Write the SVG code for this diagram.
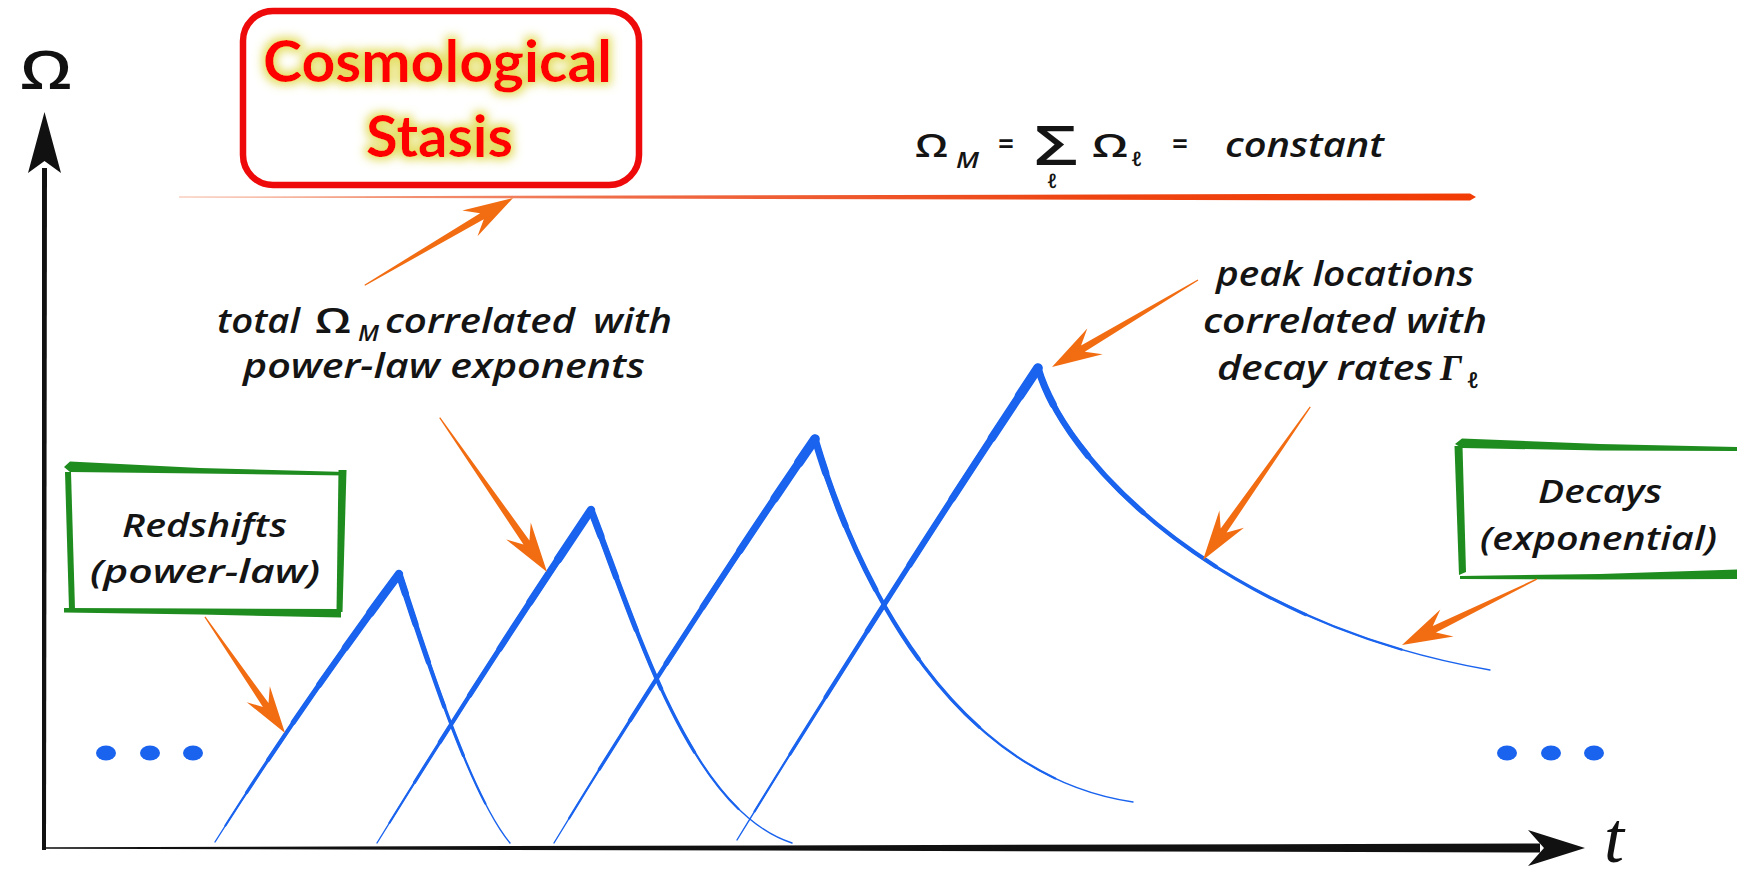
<svg xmlns="http://www.w3.org/2000/svg" xmlns:xlink="http://www.w3.org/1999/xlink" width="1737" height="871" viewBox="0 0 1737 871">
<style>
  .hand { font-family: "Open Sans", "DejaVu Sans", sans-serif; font-style: italic; font-weight: 600; fill: #141414; }
  .title { font-family: Lato, "Open Sans", sans-serif; font-weight: bold; fill: #ff0000; }
  .blue { fill: none; stroke: #1a63ee; stroke-linecap: round; stroke-linejoin: round; }
  .L1 { stroke-width: 1.4; }
  .L2 { stroke-width: 2.2; stroke-dasharray: 94 200; }
  .L3 { stroke-width: 3.2; stroke-dasharray: 82 200; }
  .L4 { stroke-width: 4.2; stroke-dasharray: 70 200; }
  .L5 { stroke-width: 5.2; stroke-dasharray: 56 200; }
  .L6 { stroke-width: 6.2; stroke-dasharray: 42 200; }
  .L7 { stroke-width: 7.2; stroke-dasharray: 28 200; }
  .L8 { stroke-width: 8.4; stroke-dasharray: 15 200; }
  .L9 { stroke-width: 9.6; stroke-dasharray: 6 200; }
  .D2 { stroke-width: 2.2; stroke-dasharray: 84 200; }
  .D3 { stroke-width: 3.2; stroke-dasharray: 66 200; }
  .D4 { stroke-width: 4.2; stroke-dasharray: 48 200; }
  .D5 { stroke-width: 5.2; stroke-dasharray: 32 200; }
  .D6 { stroke-width: 6.2; stroke-dasharray: 18 200; }
  .D7 { stroke-width: 7.2; stroke-dasharray: 7 200; }
  .orange { fill: #f26c12; }
  .green { fill: #1f8c1f; }
  .dot { fill: #1a63ee; }
</style>
<defs>
  <linearGradient id="redline" gradientUnits="userSpaceOnUse" x1="179" y1="0" x2="1476" y2="0">
    <stop offset="0" stop-color="#f6b8a0"/>
    <stop offset="0.35" stop-color="#ef6a45"/>
    <stop offset="0.7" stop-color="#ee4412"/>
    <stop offset="1" stop-color="#f23c05"/>
  </linearGradient>
  <filter id="glow" x="-20%" y="-50%" width="140%" height="200%">
    <feMorphology in="SourceAlpha" operator="dilate" radius="3" result="d"/>
    <feGaussianBlur in="d" stdDeviation="5" result="b"/>
    <feFlood flood-color="#e2dc5a" flood-opacity="0.95"/>
    <feComposite in2="b" operator="in" result="g"/>
    <feMerge><feMergeNode in="g"/><feMergeNode in="SourceGraphic"/></feMerge>
  </filter>
  <path id="r1" pathLength="100" d="M399,574 Q302,704 215,842"/>
  <path id="d1" pathLength="100" d="M399,574 C424,650 470,795 510,843"/>
  <path id="r2" pathLength="100" d="M591,510 Q481,674 377,843"/>
  <path id="d2" pathLength="100" d="M591,510 C636,626 690,810 792,843"/>
  <path id="r3" pathLength="100" d="M815,439 Q680,636 554,843"/>
  <path id="d3" pathLength="100" d="M815,439 C855,575 950,775 1133,802"/>
  <path id="r4" pathLength="100" d="M1038,368 Q884,600 737,840"/>
  <path id="d4" pathLength="100" d="M1038,368 C1068,470 1230,625 1490,670"/>
</defs>

<rect width="1737" height="871" fill="#ffffff"/>

<!-- axes -->
<g id="axes">
  <polygon fill="#111" points="42,850 42,168 47,168 46,850"/>
  <polygon fill="#111" points="44.5,112 61,173 44.5,161 28,173"/>
  <polygon fill="#111" points="44,847.2 1540,843.5 1540,852.5 44,848.8"/>
  <polygon fill="#111" points="1585,848 1528,830 1544,848 1528,866"/>
  <text x="20" y="89" textLength="52" lengthAdjust="spacingAndGlyphs" style="font-family:'Open Sans','DejaVu Sans',sans-serif;font-weight:600;font-size:52px;fill:#111">Ω</text>
  <text x="1604" y="862" style="font-family:'Liberation Serif',serif;font-style:italic;font-size:72px;fill:#111">t</text>
</g>

<!-- red constant line -->
<g id="constant-line">
  <polygon fill="url(#redline)" points="179,196.6 1470,193.6 1476,197 1470,200.6 179,197.6"/>
</g>

<!-- title box -->
<g id="title">
  <rect x="243" y="11" width="396" height="174" rx="30" ry="30" fill="#ffffff" stroke="#ee0a0a" stroke-width="6.5"/>
  <g filter="url(#glow)">
    <text class="title" x="263" y="82" font-size="58" textLength="349" lengthAdjust="spacingAndGlyphs">Cosmological</text>
    <text class="title" x="366" y="157" font-size="58" textLength="147" lengthAdjust="spacingAndGlyphs">Stasis</text>
  </g>
</g>

<!-- formula -->
<g id="formula" class="hand">
  <text x="915" y="157" font-size="33" textLength="33" lengthAdjust="spacingAndGlyphs" font-style="normal">Ω</text>
  <text x="956" y="168" font-size="22" textLength="23" lengthAdjust="spacingAndGlyphs">M</text>
  <text x="998" y="155" font-size="30" textLength="16" lengthAdjust="spacingAndGlyphs" font-style="normal">=</text>
  <text x="1034" y="165" font-size="54" textLength="44" lengthAdjust="spacingAndGlyphs" font-style="normal">Σ</text>
  <text x="1047" y="188" font-size="20" textLength="10" lengthAdjust="spacingAndGlyphs">ℓ</text>
  <text x="1092" y="157" font-size="33" textLength="36" lengthAdjust="spacingAndGlyphs" font-style="normal">Ω</text>
  <text x="1131" y="166" font-size="20" textLength="11" lengthAdjust="spacingAndGlyphs">ℓ</text>
  <text x="1172" y="155" font-size="30" textLength="16" lengthAdjust="spacingAndGlyphs" font-style="normal">=</text>
  <text x="1225" y="157" font-size="34" textLength="159" lengthAdjust="spacingAndGlyphs">constant</text>
</g>

<!-- note: total Omega_M -->
<g id="note-total" class="hand">
  <text x="217" y="333" font-size="34" textLength="83" lengthAdjust="spacingAndGlyphs">total</text>
  <text x="315" y="333" font-size="34" textLength="36" lengthAdjust="spacingAndGlyphs" font-style="normal">Ω</text>
  <text x="358" y="341" font-size="22" textLength="21" lengthAdjust="spacingAndGlyphs">M</text>
  <text x="385" y="333" font-size="34" textLength="190" lengthAdjust="spacingAndGlyphs">correlated</text>
  <text x="593" y="333" font-size="34" textLength="79" lengthAdjust="spacingAndGlyphs">with</text>
  <text x="243" y="378" font-size="34" textLength="402" lengthAdjust="spacingAndGlyphs">power-law exponents</text>
</g>

<!-- note: peak locations -->
<g id="note-peak" class="hand">
  <text x="1216" y="286" font-size="34" textLength="258" lengthAdjust="spacingAndGlyphs">peak locations</text>
  <text x="1203" y="333" font-size="34" textLength="284" lengthAdjust="spacingAndGlyphs">correlated with</text>
  <text x="1217" y="380" font-size="34" textLength="216" lengthAdjust="spacingAndGlyphs">decay rates</text>
  <text x="1440" y="380" font-size="36" textLength="22" lengthAdjust="spacingAndGlyphs" style="font-family:'Liberation Serif',serif">Γ</text>
  <text x="1467" y="388" font-size="22" textLength="12" lengthAdjust="spacingAndGlyphs">ℓ</text>
</g>

<!-- Redshifts box -->
<g id="box-redshifts">
  <polygon class="green" points="64,467 70,461.5 200,468 346,472 346,475.5 200,473.5 70,472"/>
  <polygon class="green" points="65,472 71,472 75,609 69,609"/>
  <polygon class="green" points="338.5,470 346.5,470 342.5,612 336.5,612"/>
  <polygon class="green" points="64,608 200,608.5 341,609 341,617.5 200,614.5 64,612.5"/>
  <text class="hand" x="122" y="537" font-size="32" textLength="165" lengthAdjust="spacingAndGlyphs">Redshifts</text>
  <text class="hand" x="90" y="583" font-size="32" textLength="230" lengthAdjust="spacingAndGlyphs">(power-law)</text>
</g>

<!-- Decays box -->
<g id="box-decays">
  <polygon class="green" points="1455,444 1462,438.5 1600,444 1737,447 1737,451 1600,450.5 1462,448"/>
  <polygon class="green" points="1454.5,446 1462.5,446 1466,572 1459,575"/>
  <polygon class="green" points="1460,576 1600,574 1737,569.5 1737,579 1600,579.5 1460,579"/>
  <text class="hand" x="1538" y="503" font-size="32" textLength="124" lengthAdjust="spacingAndGlyphs">Decays</text>
  <text class="hand" x="1480" y="550" font-size="32" textLength="237" lengthAdjust="spacingAndGlyphs">(exponential)</text>
</g>

<!-- abundance curves -->
<g id="curves" class="blue">
  <use href="#r1" class="L1"/><use href="#r1" class="L2"/><use href="#r1" class="L3"/><use href="#r1" class="L4"/><use href="#r1" class="L5"/><use href="#r1" class="L6"/><use href="#r1" class="L7"/><use href="#r1" class="L8"/>
  <use href="#d1" class="L1"/><use href="#d1" class="D2"/><use href="#d1" class="D3"/><use href="#d1" class="D4"/><use href="#d1" class="D5"/><use href="#d1" class="D6"/><use href="#d1" class="D7"/>
  <use href="#r2" class="L1"/><use href="#r2" class="L2"/><use href="#r2" class="L3"/><use href="#r2" class="L4"/><use href="#r2" class="L5"/><use href="#r2" class="L6"/><use href="#r2" class="L7"/><use href="#r2" class="L8"/>
  <use href="#d2" class="L1"/><use href="#d2" class="D2"/><use href="#d2" class="D3"/><use href="#d2" class="D4"/><use href="#d2" class="D5"/><use href="#d2" class="D6"/><use href="#d2" class="D7"/>
  <use href="#r3" class="L1"/><use href="#r3" class="L2"/><use href="#r3" class="L3"/><use href="#r3" class="L4"/><use href="#r3" class="L5"/><use href="#r3" class="L6"/><use href="#r3" class="L7"/><use href="#r3" class="L8"/><use href="#r3" class="L9"/>
  <use href="#d3" class="L1"/><use href="#d3" class="D2"/><use href="#d3" class="D3"/><use href="#d3" class="D4"/><use href="#d3" class="D5"/><use href="#d3" class="D6"/><use href="#d3" class="D7"/>
  <use href="#r4" class="L1"/><use href="#r4" class="L2"/><use href="#r4" class="L3"/><use href="#r4" class="L4"/><use href="#r4" class="L5"/><use href="#r4" class="L6"/><use href="#r4" class="L7"/><use href="#r4" class="L8"/><use href="#r4" class="L9"/>
  <use href="#d4" class="L1"/><use href="#d4" class="D2"/><use href="#d4" class="D3"/><use href="#d4" class="D4"/><use href="#d4" class="D5"/><use href="#d4" class="D6"/><use href="#d4" class="D7"/>
</g>

<g id="ellipsis-left">
  <ellipse class="dot" cx="106" cy="753" rx="10" ry="7.5"/>
  <ellipse class="dot" cx="150" cy="753" rx="10" ry="7.5"/>
  <ellipse class="dot" cx="193" cy="753" rx="10" ry="7.5"/>
</g>
<g id="ellipsis-right">
  <ellipse class="dot" cx="1507" cy="753" rx="10" ry="7.5"/>
  <ellipse class="dot" cx="1551" cy="753" rx="10" ry="7.5"/>
  <ellipse class="dot" cx="1594" cy="753" rx="10" ry="7.5"/>
</g>

<!-- orange pointer arrows -->
<g id="connectors" class="orange">
  <polygon transform="translate(513,198) rotate(-30.45)" points="-172,-0.6 -36,-3.6 -50,-15 0,0 -50,15 -36,3.6 -172,0.6"/>
  <polygon transform="translate(547,572) rotate(55.2)" points="-188,-0.6 -36,-3.6 -50,-15 0,0 -50,15 -36,3.6 -188,0.6"/>
  <polygon transform="translate(285,733) rotate(55.4)" points="-141,-0.6 -34,-3.4 -47,-14 0,0 -47,14 -34,3.4 -141,0.6"/>
  <polygon transform="translate(1052,367) rotate(149.2)" points="-170,-0.6 -36,-3.6 -50,-15 0,0 -50,15 -36,3.6 -170,0.6"/>
  <polygon transform="translate(1203,560) rotate(125)" points="-187,-0.6 -36,-3.6 -50,-15 0,0 -50,15 -36,3.6 -187,0.6"/>
  <polygon transform="translate(1402,645) rotate(153.95)" points="-150,-0.6 -36,-3.6 -50,-15 0,0 -50,15 -36,3.6 -150,0.6"/>
</g>
</svg>
